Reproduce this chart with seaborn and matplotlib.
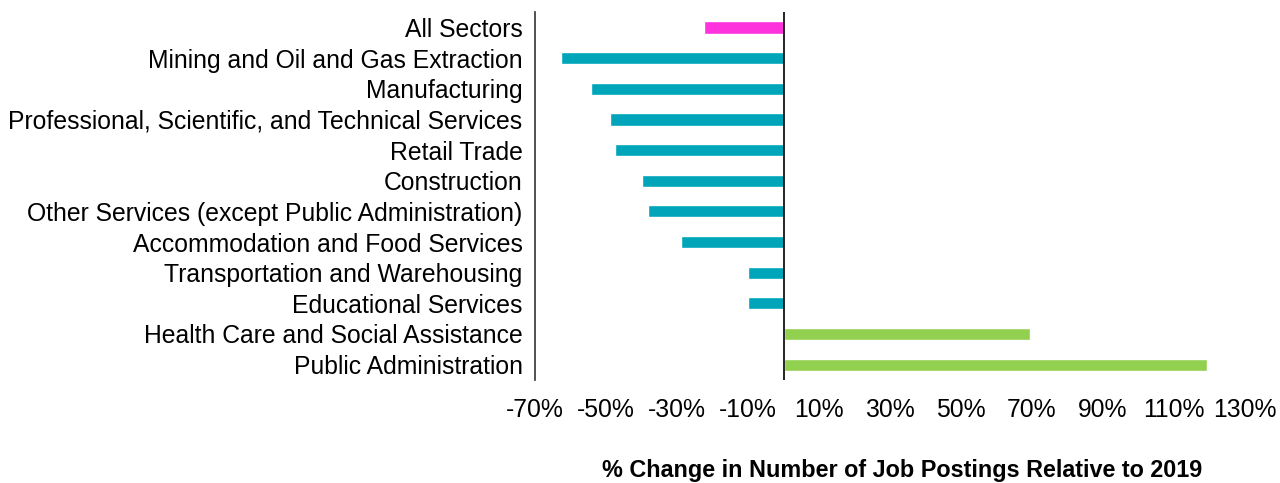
import matplotlib
matplotlib.use("Agg")
import matplotlib.pyplot as plt
import seaborn as sns
import pandas as pd
from matplotlib.ticker import FuncFormatter

sectors = [
    "All Sectors",
    "Mining and Oil and Gas Extraction",
    "Manufacturing",
    "Professional, Scientific, and Technical Services",
    "Retail Trade",
    "Construction",
    "Other Services (except Public Administration)",
    "Accommodation and Food Services",
    "Transportation and Warehousing",
    "Educational Services",
    "Health Care and Social Assistance",
    "Public Administration",
]
pct_change = [-22.4, -62.6, -54.2, -48.8, -47.5, -39.9, -38.2, -28.9, -10.1, -10.1, 69.4, 119.3]
bar_colors = ["#FF33DD"] + ["#00A5BA"] * 9 + ["#92D050"] * 2
x_ticks = list(range(-70, 131, 20))

df = pd.DataFrame({"sector": sectors, "change": pct_change})

sns.set_style("white")
plt.rcParams["font.family"] = ["Liberation Sans", "DejaVu Sans"]

fig = plt.figure(figsize=(12.8, 4.83), dpi=100)
ax = fig.add_axes([0.418, 0.2133, 0.5547, 0.7617])

sns.barplot(data=df, x="change", y="sector", hue="sector", palette=bar_colors,
            legend=False, width=0.4, orient="h", ax=ax, saturation=1)

ax.axvline(0, color="black", linewidth=1.2)
ax.set_xlim(-70, 130)
ax.set_ylim(11.5, -0.5)
ax.set_xticks(x_ticks)
ax.xaxis.set_major_formatter(FuncFormatter(lambda v, p: f"{v:.0f}%"))
ax.tick_params(axis="both", length=0, labelsize=17.8, colors="black")
ax.tick_params(axis="x", pad=13)
ax.tick_params(axis="y", pad=9)

for s in ["top", "right", "bottom"]:
    ax.spines[s].set_visible(False)
ax.spines["left"].set_color("#333333")
ax.spines["left"].set_linewidth(1.2)

ax.set_ylabel("")
ax.set_xlabel("% Change in Number of Job Postings Relative to 2019",
              fontsize=16.8, fontweight="bold", va="center", color="black")
ax.xaxis.set_label_coords(0.517, -0.245)

fig.savefig("out.png", dpi=100)
